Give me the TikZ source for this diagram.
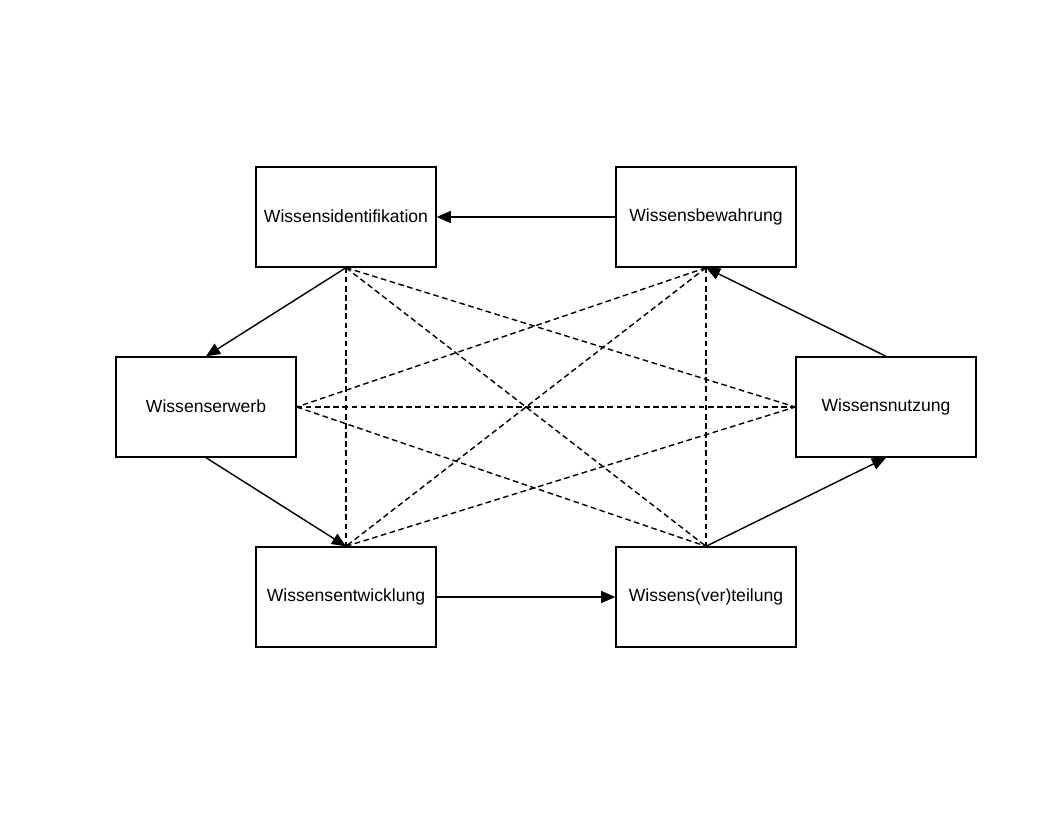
\documentclass[tikz,border=0pt]{standalone}
\usepackage{fontspec}
\setmainfont{Liberation Sans}
\usetikzlibrary{arrows.meta}

\begin{document}
\begin{tikzpicture}[
  phase/.style={draw, line width=1pt, minimum width=4.5cm, minimum height=2.5cm, inner sep=0pt, font=\fontsize{12.5}{15}\selectfont},
  flow/.style={line width=1pt, -{Triangle[length=10pt, width=8.5pt]}},
  link/.style={line width=1pt, dash pattern=on 4pt off 2.5pt}
]
\useasboundingbox (0,0) rectangle (26.4,20.425);
\node[phase] (ident) at (8.65,15) {\raisebox{1.5pt}{Wissensidentifikation}};
\node[phase] (bewahr) at (17.65,15) {\raisebox{1.5pt}{Wissensbewahrung}};
\node[phase] (erwerb) at (5.15,10.25) {\raisebox{1.5pt}{Wissenserwerb}};
\node[phase] (nutz) at (22.15,10.25) {\raisebox{1.5pt}{Wissensnutzung}};
\node[phase] (entw) at (8.65,5.5) {\raisebox{1.5pt}{Wissensentwicklung}};
\node[phase] (vert) at (17.65,5.5) {\raisebox{1.5pt}{Wissens(ver)teilung}};
% Kreislauf
\draw[flow] (bewahr.west) -- (ident.east);
\draw[flow] (ident.south) -- (erwerb.north);
\draw[flow] (erwerb.south) -- (entw.north);
\draw[flow] (entw.east) -- (vert.west);
\draw[flow] (vert.north) -- (nutz.south);
\draw[flow] (nutz.north) -- (bewahr.south);
% Querverbindungen
\draw[link] (ident.south) -- (entw.north);
\draw[link] (ident.south) -- (vert.north);
\draw[link] (ident.south) -- (nutz.west);
\draw[link] (bewahr.south) -- (vert.north);
\draw[link] (bewahr.south) -- (entw.north);
\draw[link] (bewahr.south) -- (erwerb.east);
\draw[link] (erwerb.east) -- (nutz.west);
\draw[link] (erwerb.east) -- (vert.north);
\draw[link] (entw.north) -- (nutz.west);
\end{tikzpicture}
\end{document}
